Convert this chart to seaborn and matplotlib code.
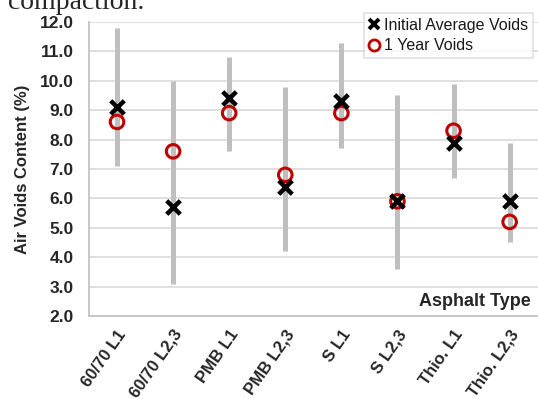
import matplotlib
matplotlib.use("Agg")
import matplotlib.pyplot as plt
from matplotlib.lines import Line2D
import numpy as np
import pandas as pd
import seaborn as sns

# Asphalt types and measured air voids (%)
asphalt_types = ["60/70 L1", "60/70 L2,3", "PMB L1", "PMB L2,3",
                 "S L1", "S L2,3", "Thio. L1", "Thio. L2,3"]
range_low = [7.1, 3.1, 7.6, 4.2, 7.7, 3.6, 6.7, 4.5]
range_high = [11.8, 10.0, 10.8, 9.8, 11.3, 9.5, 9.9, 7.9]
initial_avg = [9.1, 5.7, 9.4, 6.4, 9.3, 5.9, 7.9, 5.9]
one_year = [8.6, 7.6, 8.9, 6.8, 8.9, 5.9, 8.3, 5.2]
y_ticks = [2.0, 3.0, 4.0, 5.0, 6.0, 7.0, 8.0, 9.0, 10.0, 11.0, 12.0]

df = pd.DataFrame({"type": asphalt_types, "low": range_low, "high": range_high,
                   "initial": initial_avg, "year": one_year})

sns.set_theme(style="white")
plt.rcParams["font.family"] = ["Liberation Sans Narrow", "Liberation Sans", "DejaVu Sans"]

fig = plt.figure(figsize=(5.38, 3.99), dpi=100)
ax = fig.add_axes([0.1654, 0.208, 0.834, 0.737])

red = "#C00000"
grey_bar = "#BFBFBF"

# min-max range of each asphalt type
ax.vlines(df["type"], df["low"], df["high"], colors=grey_bar, linewidth=3.6, zorder=2)

# average voids: initial (black cross) and after one year (red ring)
sns.scatterplot(data=df, x="type", y="initial", marker="x", s=95, color="black",
                linewidth=3.2, ax=ax, legend=False, zorder=4)
sns.scatterplot(data=df, x="type", y="year", marker="o", s=95, facecolors="none",
                edgecolor=red, linewidth=2.2, ax=ax, legend=False, zorder=3)

ax.set_xlim(-0.5, len(asphalt_types) - 0.5)
ax.set_ylim(2.0, 12.0)
ax.set_yticks(y_ticks)
ax.set_yticklabels([f"{v:.1f}" for v in y_ticks], fontsize=12.5, fontweight="bold")
ax.yaxis.grid(True, color="#D9D9D9", linewidth=1.2)
ax.xaxis.grid(False)

ax.set_xticks(range(len(asphalt_types)))
ax.set_xticklabels(asphalt_types, rotation=55, ha="right", rotation_mode="anchor",
                   fontsize=12, fontweight="bold")
ax.set_xticks(np.arange(-0.5, len(asphalt_types) + 0.5, 1.0), minor=True)
ax.tick_params(axis="x", which="major", length=0, pad=8)
ax.tick_params(axis="x", which="minor", length=5, width=1.2, color="#BFBFBF")
ax.tick_params(axis="y", which="major", length=5, width=1.2, color="#BFBFBF", pad=6)

for side in ["top", "right"]:
    ax.spines[side].set_visible(False)
for side in ["left", "bottom"]:
    ax.spines[side].set_color("#BFBFBF")
    ax.spines[side].set_linewidth(1.2)

ax.set_xlabel("")
ax.set_ylabel("Air Voids Content (%)", fontsize=12, fontweight="bold", labelpad=7)

ax.text(0.985, 0.05, "Asphalt Type", transform=ax.transAxes, ha="right", va="center",
        fontsize=13, fontweight="bold")

handles = [
    Line2D([], [], marker="x", linestyle="none", color="black", markersize=7.5,
           markeredgewidth=2.8),
    Line2D([], [], marker="o", linestyle="none", markerfacecolor="none",
           markeredgecolor=red, markersize=8, markeredgewidth=2.0),
]
leg = ax.legend(handles, ["Initial Average Voids", "1 Year Voids"],
                loc="upper right", bbox_to_anchor=(0.989, 1.031), fontsize=11.5,
                frameon=True, fancybox=False, handlelength=0.7, handletextpad=0.25,
                borderpad=0.3, labelspacing=0.35, borderaxespad=0)
leg.get_frame().set_edgecolor("#D9D9D9")
leg.get_frame().set_linewidth(1.2)
for t in leg.get_texts():
    t.set_color("#1a1a1a")

fig.text(0.015, 0.978, "compaction.", family="Liberation Serif", fontsize=20,
         ha="left", va="baseline")

fig.savefig("out.png", dpi=100)
